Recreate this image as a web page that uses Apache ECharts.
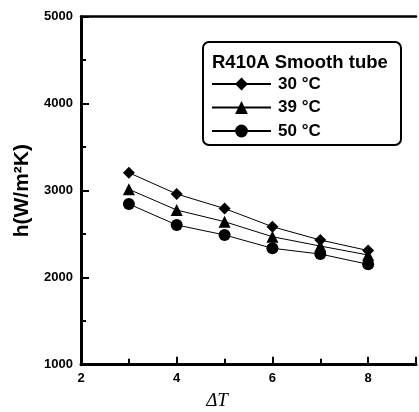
<!DOCTYPE html>
<html><head><meta charset="utf-8">
<script src="https://cdn.jsdelivr.net/npm/echarts@6/dist/echarts.min.js"></script>
<style>html,body{margin:0;padding:0;background:#fff}#c{width:419px;height:412px}</style>
</head><body><div id="c"></div>
<script>
const xValues = [3, 4, 5, 6, 7, 8];
const seriesNames = ['30 °C', '39 °C', '50 °C'];
const h30 = [3207, 2962, 2795, 2586, 2433, 2312];
const h39 = [3016, 2778, 2644, 2471, 2364, 2261];
const h50 = [2847, 2606, 2491, 2338, 2272, 2154];
const symbols = ['diamond', 'triangle', 'circle'];
const legendTitle = 'R410A Smooth tube';
const xName = 'ΔT';
const yName = 'h(W/m²K)';

const font = 'Liberation Sans, Arial, sans-serif';
const chart = echarts.init(document.getElementById('c'));
const allData = [h30, h39, h50];
const series = allData.map((arr, i) => ({
  name: seriesNames[i], type: 'line', xAxisIndex: 0, yAxisIndex: 0,
  data: xValues.map((x, j) => [x, arr[j]]),
  symbol: symbols[i], symbolSize: 12,
  lineStyle: {color: '#000', width: 1}, itemStyle: {color: '#000'},
  emphasis: {disabled: true}, animation: false
}));
chart.setOption({
  animation: false,
  grid: {left: 81, top: 16.7, width: 343, height: 348},
  xAxis: [
    {type: 'value', min: 2, max: 9, interval: 1, position: 'bottom',
     axisLine: {lineStyle: {color: '#000', width: 3}},
     axisTick: {inside: true, length: 6, lineStyle: {color: '#000', width: 2}},
     axisLabel: {margin: 7, color: '#000', fontFamily: font, fontWeight: 'bold', fontSize: 13,
       formatter: v => (v % 2 === 0 && v < 9) ? String(v) : ''},
     splitLine: {show: false}},
    {type: 'value', min: 2, max: 9, interval: 2, position: 'bottom', gridIndex: 0,
     axisLine: {show: false},
     axisTick: {inside: true, length: 8, lineStyle: {color: '#000', width: 2}},
     axisLabel: {show: false}, splitLine: {show: false}},
    {type: 'value', min: 2, max: 9, position: 'top',
     axisLine: {lineStyle: {color: '#000', width: 2.5}},
     axisTick: {show: false}, axisLabel: {show: false}, splitLine: {show: false}}
  ],
  yAxis: [{type: 'value', min: 1000, max: 5000, interval: 1000,
     name: yName, nameLocation: 'middle', nameGap: 36,
     nameTextStyle: {fontFamily: font, fontWeight: 'bold', fontSize: 21, color: '#000'},
     axisLine: {lineStyle: {color: '#000', width: 3}},
     axisTick: {inside: true, length: 8, lineStyle: {color: '#000', width: 2}},
     minorTick: {show: true, splitNumber: 2, length: 5, lineStyle: {color: '#000', width: 2}},
     axisLabel: {margin: 8, color: '#000', fontFamily: font, fontWeight: 'bold', fontSize: 13,
       formatter: v => String(v)},
     splitLine: {show: false}}],
  legend: {orient: 'vertical', left: 211, top: 75.5, padding: 0, itemWidth: 59, itemHeight: 16, itemGap: 6.5,
    data: seriesNames, selectedMode: false,
    textStyle: {fontFamily: font, fontWeight: 'bold', fontSize: 17, color: '#000', padding: [0, 0, 0, 2]}},
  graphic: [
    {type: 'rect', shape: {x: 203, y: 42, width: 198, height: 103, r: 6},
     style: {fill: 'none', stroke: '#000', lineWidth: 2}, z: 100},
    {type: 'text', x: 212, y: 63, style: {text: legendTitle, font: 'bold 18.5px ' + font,
     fill: '#000', textVerticalAlign: 'middle'}, z: 100},
    {type: 'text', x: 217, y: 401, style: {text: xName, font: 'italic 19px Liberation Serif, Times New Roman, serif',
     fill: '#000', textAlign: 'center', textVerticalAlign: 'middle'}, z: 100}
  ],
  series: series
});
</script></body></html>
